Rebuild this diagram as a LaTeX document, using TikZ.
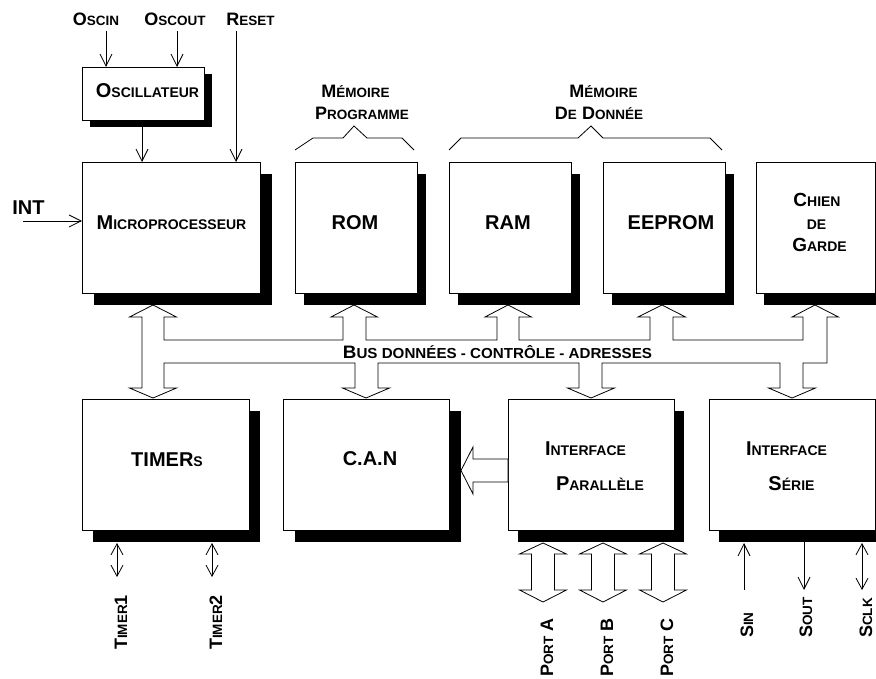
\documentclass[tikz,border=0pt]{standalone}
\usepackage{fontspec}
\usepackage{graphicx}
\setmainfont{Liberation Sans}
\usetikzlibrary{arrows.meta}
\newcommand\scA[2]{{\fontsize{20}{24}\selectfont #1}{\fontsize{14}{17}\selectfont #2}}
\newcommand\scB[2]{{\fontsize{18}{22}\selectfont #1}{\fontsize{13.5}{16}\selectfont #2}}
\newcommand\scC[2]{{\fontsize{19}{22}\selectfont #1}{\fontsize{14}{16}\selectfont #2}}
\newcommand\bigA{\fontsize{20}{24}\selectfont}
\newcommand\mybox[7]{%
  \fill[black] (#2+#6,#3+#7) rectangle ++(#4,#5);
  \node[box, minimum width=#4pt, minimum height=#5pt] (#1) at (#2,#3) {};
}
\begin{document}
\begin{tikzpicture}[x=1pt,y=-1pt,
  box/.style={draw=black, fill=white, line width=0.8pt, anchor=north west, inner sep=0pt},
  lbl/.style={font=\bfseries, inner sep=0pt, anchor=base},
  rlbl/.style={font=\bfseries, inner sep=0pt, anchor=base west, rotate=90},
  arr/.style={line width=0.8pt, -{Straight Barb[length=12pt,width=12pt]}},
  darr/.style={line width=0.8pt, {Straight Barb[length=11pt,width=12pt]}-{Straight Barb[length=11pt,width=12pt]}},
  wide/.style={draw=black, fill=white, line width=0.8pt, line join=miter},
  brace/.style={line width=0.8pt}
]
\useasboundingbox (0,0) rectangle (876,679);
\clip (0,0) rectangle (876,679);

% ---------- boxes ----------
\mybox{osc}{82}{67}{122}{53}{8}{7}
\mybox{micro}{82}{162}{178}{131}{12}{12}
\mybox{rom}{295}{162}{122}{131}{9}{12}
\mybox{ram}{449}{162}{122}{131}{9}{12}
\mybox{eeprom}{603}{162}{122}{131}{9}{12}
\mybox{chien}{756}{162}{119}{131}{8}{12}
\mybox{timers}{82}{399}{167}{131}{11}{12}
\mybox{can}{283}{399}{166}{131}{12}{12}
\mybox{para}{508}{399}{166}{131}{10}{12}
\mybox{serie}{709}{399}{166}{131}{10}{12}

% ---------- box texts ----------
\node[lbl] (toscil) at (147.5,98) {\scA{O}{SCILLATEUR}};
\node[lbl] (tmicro) at (171.5,229.5) {\scA{M}{ICROPROCESSEUR}};
\node[lbl] (trom) at (355,230) {\bigA ROM};
\node[lbl] (tram) at (508,230) {\bigA RAM};
\node[lbl] (teeprom) at (671,230) {\bigA EEPROM};
\node[lbl] (tchien1) at (817,207) {\scC{C}{HIEN}};
\node[lbl] (tchien2) at (816.5,230) {\fontsize{14}{16}\selectfont DE};
\node[lbl] (tchien3) at (819.5,252) {\scC{G}{ARDE}};
\node[lbl] (ttimers) at (167,466) {\scA{TIMER}{S}};
\node[lbl] (tcan) at (370,465) {\bigA C.A.N};
\node[lbl] (tpara1) at (585.5,455) {\scA{I}{NTERFACE}};
\node[lbl] (tpara2) at (600,490) {\scA{P}{ARALLÈLE}};
\node[lbl] (tserie1) at (786.5,455) {\scA{I}{NTERFACE}};
\node[lbl] (tserie2) at (791.5,490) {\scA{S}{ÉRIE}};

% ---------- top labels ----------
\node[lbl] (loscin) at (96,26) {\scB{O}{SCIN}};
\node[lbl] (loscout) at (175,26) {\scB{O}{SCOUT}};
\node[lbl] (lreset) at (250.5,26) {\scB{R}{ESET}};
\node[lbl] (lint) at (28.5,215) {\bigA INT};
\node[lbl] (lmp1) at (355.5,98) {\scB{M}{ÉMOIRE}};
\node[lbl] (lmp2) at (362,120) {\scB{P}{ROGRAMME}};
\node[lbl] (lmd1) at (603.5,98) {\scB{M}{ÉMOIRE}};
\node[lbl] (lmd2) at (599,120) {\scB{D}{E}{\fontsize{18}{22}\selectfont\ }\scB{D}{ONNÉE}};

% ---------- braces ----------
\draw[brace] (rom.north west |- 0,150) -- (313,138) -- (343,138) -- (354,126) -- (367,138) -- (402,138) -- (414,150);
\draw[brace] (ram.north west |- 0,150) -- (461,138) -- (578,138) -- (591,126) -- (603,138) -- (710,138) -- (722,150);

% ---------- signal arrows ----------
\coordinate (oscinS) at (106,31);
\coordinate (oscoutS) at (177,31);
\coordinate (resetS) at (236,31);
\coordinate (intS) at (23,221);
\draw[arr] (oscinS) -- (oscinS |- osc.north);
\draw[arr] (oscoutS) -- (oscoutS |- osc.north);
\draw[arr] (resetS) -- (resetS |- micro.north);
\draw[arr] (142,127) -- (142,162);
\draw[arr] (intS) -- (intS -| micro.west);

% ---------- bus ----------
\draw[wide] (153,305) -- (176.5,317) -- (164,317) -- (164,340) -- (343,340) -- (343,317) -- (331,317)
  -- (354,305) -- (377.5,317) -- (366,317) -- (366,340) -- (497,340) -- (497,317) -- (485,317)
  -- (508,305) -- (531.5,317) -- (519,317) -- (519,340) -- (650,340) -- (650,317) -- (638,317)
  -- (662,305) -- (685.5,317) -- (673,317) -- (673,340) -- (803,340) -- (803,317) -- (792,317)
  -- (815,305) -- (838.5,317) -- (827,317) -- (827,363) -- (803,363) -- (803,388) -- (815.5,388)
  -- (792,398) -- (768.5,388) -- (780,388) -- (780,363) -- (602,363) -- (602,388) -- (614.5,388)
  -- (591,398) -- (567.5,388) -- (579,388) -- (579,363) -- (378,363) -- (378,388) -- (389.5,388)
  -- (366,398) -- (342.5,388) -- (355,388) -- (355,363) -- (164,363) -- (164,388) -- (176.5,388)
  -- (153,398) -- (129.5,388) -- (142,388) -- (142,317) -- (129.5,317) -- cycle;
\node[lbl] (tbus) at (497.5,358) {\scalebox{1.045}[1]{{\fontsize{18}{22}\selectfont B}{\fontsize{14.5}{17}\selectfont US DONNÉES - CONTRÔLE - ADRESSES}}};

% ---------- parallel -> CAN ----------
\draw[wide] (para.west |- 0,459) -- (473,459) -- (473,447) -- (461,470.5) -- (473,494) -- (473,482) -- (para.west |- 0,482) -- cycle;

% ---------- ports ----------
\foreach \c/\n in {543/A,603/B,663/C}{
  \draw[wide] (\c,543) -- (\c+23.5,554) -- (\c+11.5,554) -- (\c+11.5,590) -- (\c+23.5,590) -- (\c,602)
    -- (\c-23.5,590) -- (\c-11.5,590) -- (\c-11.5,554) -- (\c-23.5,554) -- cycle;
  \node[rlbl] (port\n) at (\c+10,677) {\scB{P}{ORT}{\fontsize{18}{22}\selectfont\ \n}};
}

% ---------- timers ----------
\draw[darr] (117,543) -- (117,577);
\draw[darr] (212,543) -- (212,577);
\node[rlbl] (ltimer1) at (127,650) {\scB{T}{IMER}{\fontsize{18}{22}\selectfont 1}};
\node[rlbl] (ltimer2) at (222,650) {\scB{T}{IMER}{\fontsize{18}{22}\selectfont 2}};

% ---------- serial ----------
\draw[arr] (744,590) -- (744,543);
\draw[arr] (804,542) -- (804,590);
\draw[darr] (862,543) -- (862,590);
\node[rlbl] (lsin) at (753,638) {\scB{S}{IN}};
\node[rlbl] (lsout) at (812,638) {\scB{S}{OUT}};
\node[rlbl] (lsclk) at (872,638) {\scB{S}{CLK}};
\end{tikzpicture}
\end{document}
